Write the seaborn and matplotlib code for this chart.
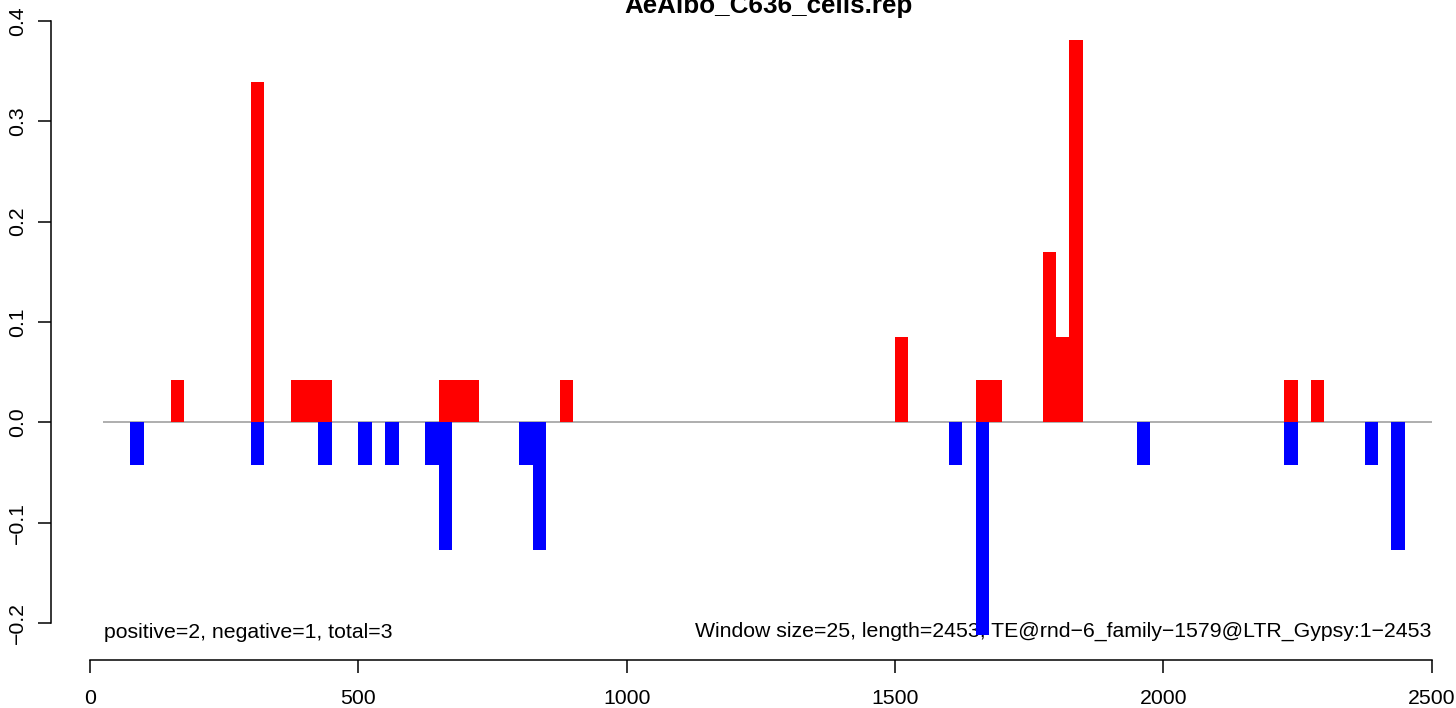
import numpy as np
import pandas as pd
import seaborn as sns
import matplotlib
matplotlib.use('Agg')
import matplotlib.pyplot as plt

# ventanas de 25 pb: inicio de cada ventana y valor
window = 25
pos_start = [150, 300, 375, 400, 425, 650, 675, 700, 875, 1500, 1650, 1675, 1775, 1800, 1825, 2225, 2275]
pos_value = [0.042, 0.339, 0.042, 0.042, 0.042, 0.042, 0.042, 0.042, 0.042, 0.085, 0.042, 0.042, 0.170, 0.085, 0.381, 0.042, 0.042]
neg_start = [75, 300, 425, 500, 550, 625, 650, 800, 825, 1600, 1650, 1950, 2225, 2375, 2425]
neg_value = [-0.042, -0.042, -0.042, -0.042, -0.042, -0.042, -0.127, -0.042, -0.127, -0.042, -0.212, -0.042, -0.042, -0.042, -0.127]

x_ticks = [0, 500, 1000, 1500, 2000, 2500]
y_ticks = [-0.2, -0.1, 0.0, 0.1, 0.2, 0.3, 0.4]
y_labels = ['\u22120.2', '\u22120.1', '0.0', '0.1', '0.2', '0.3', '0.4']

title = 'AeAlbo_C636_cells.rep'
note_left = 'positive=2, negative=1, total=3'
note_right = 'Window size=25, length=2453, TE@rnd\u22126_family\u22121579@LTR_Gypsy:1\u22122453'

df = pd.concat([
    pd.DataFrame({'start': neg_start, 'value': neg_value, 'strand': 'neg'}),
    pd.DataFrame({'start': pos_start, 'value': pos_value, 'strand': 'pos'}),
])

sns.set_theme(style='white')
plt.rcParams['font.family'] = ['Liberation Sans', 'DejaVu Sans']
plt.rcParams['font.size'] = 15.3
plt.rcParams['text.color'] = 'black'
plt.rcParams['xtick.color'] = 'black'
plt.rcParams['ytick.color'] = 'black'

W, H = 1456, 708
fig = plt.figure(figsize=(W / 100, H / 100), dpi=100)
# zona de datos: x 0->90px, 2500->1431.7px ; y -0.2->623.3px, 0.4->20.7px
ax = fig.add_axes([90 / W, 1 - 623.3 / H, 1341.7 / W, 602.6 / H])
ax.set_xlim(0, 2500)
ax.set_ylim(-0.2, 0.4)
ax.patch.set_alpha(0)

ax.hlines(0, 25, 2500, color='#999999', lw=1.1, zorder=2)

colores = {'neg': '#0000FF', 'pos': '#FF0000'}
for strand, sub in df.groupby('strand', sort=True):
    ax.bar(sub['start'], sub['value'], width=window, align='edge',
           color=colores[strand], linewidth=0, clip_on=False, zorder=5)

# ejes estilo R
for s in ['top', 'right']:
    ax.spines[s].set_visible(False)
ax.spines['left'].set_position(('outward', 39.3 * 0.72))
ax.spines['bottom'].set_position(('outward', 36.7 * 0.72))
ax.spines['left'].set_bounds(-0.2, 0.4)
ax.spines['bottom'].set_bounds(0, 2500)
for s in ['left', 'bottom']:
    ax.spines[s].set_color('black')
    ax.spines[s].set_linewidth(1.1)

ax.set_xticks(x_ticks)
ax.set_xticklabels([str(t) for t in x_ticks])
ax.set_yticks(y_ticks)
ax.set_yticklabels(y_labels, rotation=90, va='center')
ax.tick_params(axis='both', which='major', direction='out', length=9.4, width=1.1,
               color='black', labelsize=15.3, labelcolor='black',
               bottom=True, left=True)
ax.tick_params(axis='x', pad=11.5)
ax.tick_params(axis='y', pad=7.5)
ax.grid(False)

ax.text(104 / W, 1 - 638 / H, note_left, transform=fig.transFigure,
        ha='left', va='baseline', fontsize=15.3, color='black', zorder=3)
ax.text(1431 / W, 1 - 637 / H, note_right, transform=fig.transFigure,
        ha='right', va='baseline', fontsize=15.3, color='black', zorder=3)

fig.text(769 / W, 1 - 13.5 / H, title, ha='center', va='baseline',
         fontsize=18.7, fontweight='bold', color='black')

fig.savefig('out.png', dpi=100, facecolor='white')
